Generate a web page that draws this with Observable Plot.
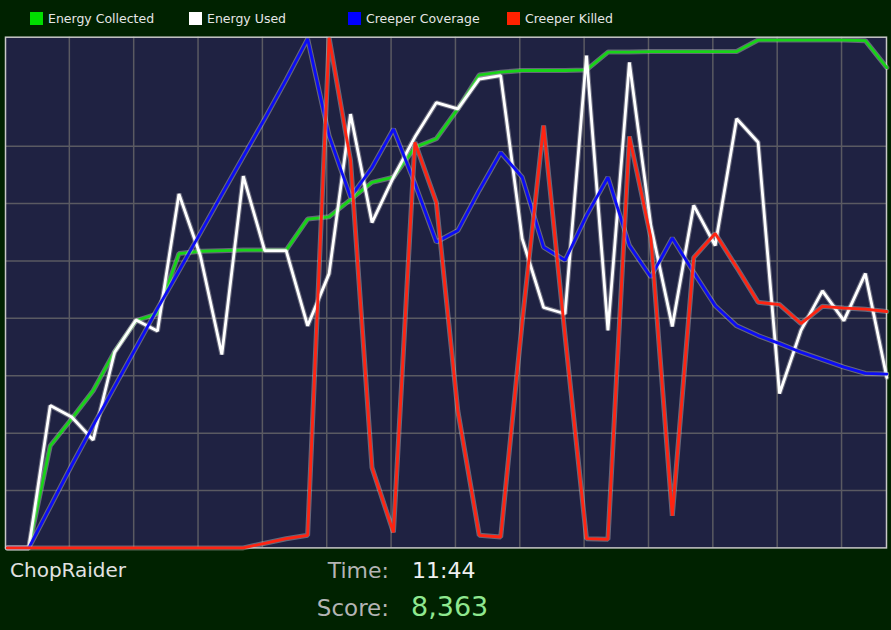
<!DOCTYPE html>
<html><head><meta charset="utf-8">
<script src="https://cdn.jsdelivr.net/npm/d3@7"></script>
<script src="https://cdn.jsdelivr.net/npm/@observablehq/plot@0.6"></script>
<style>
html,body{margin:0;padding:0;background:#002200;}
body{width:891px;height:630px;overflow:hidden;font-family:"DejaVu Sans",Verdana,sans-serif;}
#legend{position:relative;height:33px;}
.item{position:absolute;top:11px;height:14px;display:flex;align-items:center;font-size:12.5px;color:#e6e6e6;white-space:nowrap;}
.sw{width:13px;height:13px;margin-right:5px;flex:none;}
#chart svg{display:block}
#footer{position:relative;height:77px;}
#footer div{position:absolute;line-height:1;white-space:nowrap;}
</style></head>
<body>
<div id="legend"></div>
<div id="chart"></div>
<div id="footer"></div>
<script>
// ---- data ----
const seriesNames = ["Energy Collected", "Energy Used", "Creeper Coverage", "Creeper Killed"];
const lineColors = ["#18d418", "#ffffff", "#0c0cf4", "#ff2412"];
const legendColors = ["#00dd00", "#ffffff", "#0000ff", "#ff2200"];

const energyCollected = [0,0,1.78,2.25,2.74,3.42,3.96,4.08,5.13,5.17,5.18,5.19,5.19,5.19,5.73,5.77,6.07,6.37,6.46,6.98,7.13,7.65,8.24,8.29,8.32,8.32,8.32,8.33,8.64,8.64,8.65,8.65,8.65,8.65,8.65,8.85,8.85,8.85,8.85,8.85,8.84,8.37];
const energyUsed = [0,0,2.48,2.28,1.88,3.41,3.97,3.78,6.17,5.09,3.37,6.48,5.18,5.18,3.87,4.78,7.56,5.67,6.46,7.16,7.76,7.65,8.17,8.23,5.39,4.19,4.08,8.58,3.79,8.46,5.62,3.86,5.97,5.27,7.48,7.07,2.69,3.79,4.48,3.96,4.78,2.97];
const creeperCoverage = [0,0,0.72,1.44,2.13,2.81,3.49,4.17,4.83,5.49,6.16,6.82,7.48,8.16,8.87,7.18,6.11,6.63,7.30,6.35,5.33,5.53,6.23,6.89,6.46,5.24,5.01,5.79,6.46,5.27,4.72,5.40,4.80,4.22,3.87,3.70,3.56,3.41,3.28,3.15,3.04,3.03];
const creeperKilled = [0,0,0,0,0,0,0,0,0,0,0,0,0.08,0.16,0.22,8.89,6.75,1.40,0.27,7.07,6.02,2.39,0.22,0.19,3.93,7.36,3.70,0.16,0.15,7.17,5.41,0.56,5.06,5.48,4.89,4.28,4.24,3.91,4.21,4.18,4.16,4.12];

const xGridTicks = [2.89,5.89,8.89,11.89,14.89,17.89,20.89,23.89,26.89,29.89,32.89,35.89,38.89];
const yGridTicks = [1,2,3,4,5,6,7];

const playerName = "ChopRaider";
const timeLabel = "Time:";
const timeValue = "11:44";
const scoreLabel = "Score:";
const scoreValue = "8,363";

// ---- legend ----
const legendLeft = [30, 189, 348, 507];
const legend = document.getElementById("legend");
seriesNames.forEach((name, k) => {
  const it = document.createElement("div");
  it.className = "item";
  it.style.left = legendLeft[k] + "px";
  const sw = document.createElement("span");
  sw.className = "sw";
  sw.style.background = legendColors[k];
  const t = document.createElement("span");
  t.textContent = name;
  it.append(sw, t);
  legend.append(it);
});

// ---- chart ----
const allSeries = [energyCollected, energyUsed, creeperCoverage, creeperKilled];
const perSeries = allSeries.map((vals, s) => vals.map((v, i) => ({i, v, series: seriesNames[s]})));

const marks = [
  Plot.frame({fill: "#1f2242", stroke: null}),
  Plot.ruleX(xGridTicks, {stroke: "#5a5a62", strokeWidth: 1.5}),
  Plot.ruleY(yGridTicks, {stroke: "#5a5a62", strokeWidth: 1.5}),
  Plot.frame({stroke: "#c8c8c8", strokeWidth: 1.5})
];
perSeries.forEach((d, s) => {
  marks.push(Plot.line(d, {x: "i", y: "v", stroke: "#d0d0d0", strokeOpacity: 0.4, strokeWidth: 5, strokeLinejoin: "miter"}));
  marks.push(Plot.line(d, {x: "i", y: "v", stroke: lineColors[s], strokeWidth: 2.8, strokeLinejoin: "miter"}));
});

const chart = Plot.plot({
  width: 891,
  height: 520,
  marginTop: 3.7,
  marginBottom: 5.6,
  marginLeft: 5,
  marginRight: 5,
  style: {background: "#002200"},
  x: {domain: [-0.086, 40.986], axis: null},
  y: {domain: [0, 8.9], axis: null},
  marks
});
document.getElementById("chart").append(chart);

// ---- footer ----
const footer = document.getElementById("footer");
function addText(txt, css) {
  const d = document.createElement("div");
  d.textContent = txt;
  Object.assign(d.style, css);
  footer.append(d);
}
addText(playerName, {left: "10px", top: "7.4px", fontSize: "20px", color: "#e2e2e2"});
addText(timeLabel, {right: "502px", top: "7.4px", fontSize: "22px", color: "#b4b4b4"});
addText(timeValue, {left: "412px", top: "7.4px", fontSize: "22px", color: "#f0f0f0"});
addText(scoreLabel, {right: "502px", top: "43.5px", fontSize: "23px", color: "#b4b4b4"});
addText(scoreValue, {left: "411px", top: "40.2px", fontSize: "27px", color: "#8fe88f"});
</script>
</body></html>
